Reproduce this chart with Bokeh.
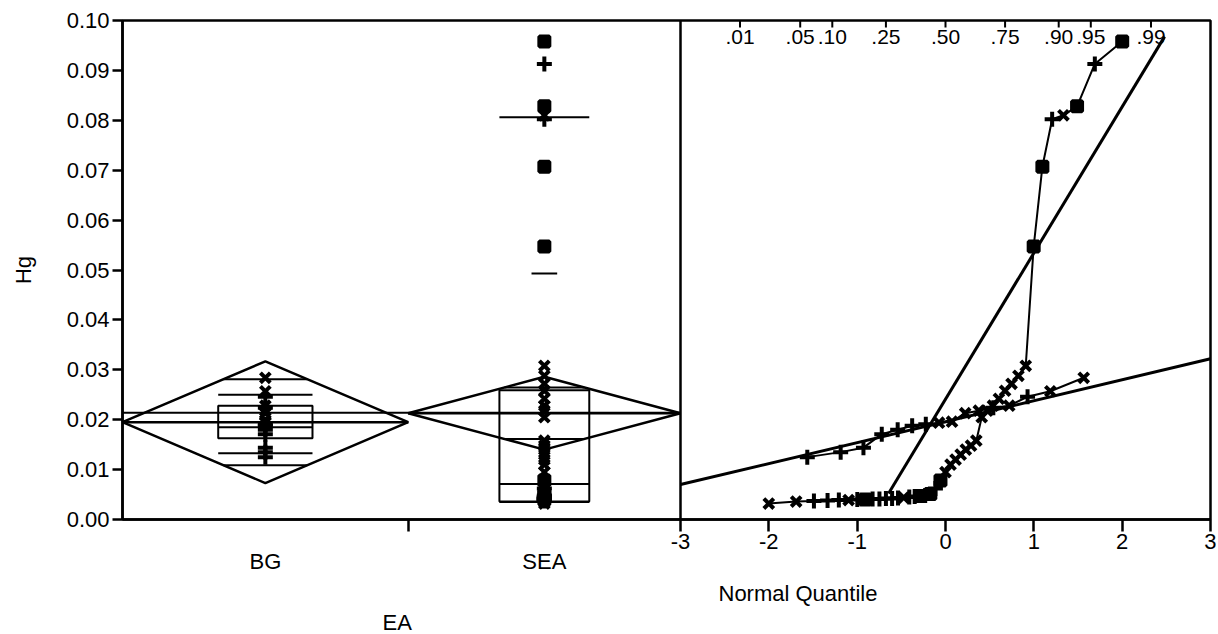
import numpy as np
from statistics import NormalDist
from bokeh.plotting import figure
from bokeh.models import (Range1d, LinearAxis, FixedTicker, PrintfTickFormatter,
                          Span, Title, ColumnDataSource)
from bokeh.core.properties import value
from bokeh.embed import file_html
from bokeh.resources import INLINE

# ---------------- data ----------------
groups = ["BG", "SEA"]
group_edges = [0.0, 0.512, 1.0]

bg_values = [0.0125, 0.0135, 0.0144, 0.0171, 0.0180, 0.0188, 0.0191, 0.0194,
             0.0196, 0.0213, 0.0218, 0.0224, 0.0228, 0.0246, 0.0257, 0.0284]
bg_markers = ["cross", "cross", "cross", "cross", "cross", "cross", "cross", "x",
              "x", "x", "x", "cross", "x", "cross", "x", "x"]

sea_values = [0.0032, 0.0036, 0.0037, 0.0038, 0.0039, 0.0039, 0.0040, 0.0040,
              0.0041, 0.0041, 0.0042, 0.0042, 0.0043, 0.0044, 0.0045, 0.0046,
              0.0047, 0.0048, 0.0051, 0.0062, 0.0078, 0.0095, 0.0110, 0.0120,
              0.0130, 0.0140, 0.0148, 0.0158, 0.0205, 0.0218, 0.0228, 0.0242,
              0.0258, 0.0272, 0.0288, 0.0308, 0.0547, 0.0707, 0.0802, 0.0810,
              0.0828, 0.0913, 0.0958]
sea_markers = ["x", "x", "cross", "cross", "cross", "x", "cross", "square",
               "cross", "cross", "cross", "cross", "cross", "x", "cross", "cross",
               "square", "cross", "square", "cross", "square", "x", "x", "x",
               "x", "x", "x", "x", "x", "x", "x", "x",
               "x", "x", "x", "x", "square", "square", "cross", "x",
               "square", "cross", "square"]

# means diamonds (mean, 95% half-width)
diamond_mean = [0.0195, 0.0213]
diamond_ci = [0.0122, 0.0073]
# quantile boxes: 10%, 25%, 50%, 75%, 90%
q10 = [0.0133, 0.0035]
q25 = [0.0163, 0.0036]
q50 = [0.0185, 0.0071]
q75 = [0.0228, 0.0259]
q90 = [0.0250, 0.0806]
sea_extra_mark = [0.0493]

# normal quantile fit lines (BG, SEA)
fit_mean = [0.0196, 0.0241]
fit_sd = [0.0042, 0.0293]
fit_q_from = [-3.0, -0.645]
fit_q_to = [3.0, 2.48]

prob_ticks = [0.01, 0.05, 0.10, 0.25, 0.50, 0.75, 0.90, 0.95, 0.99]
prob_labels = [".01", ".05", ".10", ".25", ".50", ".75", ".90", ".95", ".99"]
y_ticks = [0.00, 0.01, 0.02, 0.03, 0.04, 0.05, 0.06, 0.07, 0.08, 0.09, 0.10]
q_ticks = [-3, -2, -1, 0, 1, 2, 3]

# ---------------- layout ----------------
FONT = "Liberation Sans"
FS = "22px"
W, H = 1216, 634
BL, BR, BT, BB = 122, 6, 20, 115
L_PART, R_PART = 558, 530
LW = 2.5

cat_lo = group_edges[0]
cat_hi = group_edges[-1] * (L_PART + R_PART) / L_PART
q_hi = q_ticks[-1]
q_lo = q_ticks[0] - (q_ticks[-1] - q_ticks[0]) * L_PART / R_PART


def cat_to_q(c):
    return q_lo + (c - cat_lo) * (q_hi - q_lo) / (cat_hi - cat_lo)


p = figure(width=W, height=H, x_range=Range1d(cat_lo, cat_hi),
           y_range=Range1d(y_ticks[0], y_ticks[-1]),
           x_axis_type=None, output_backend="svg", toolbar_location=None,
           min_border_left=BL, min_border_right=BR, min_border_top=BT,
           min_border_bottom=BB)
p.extra_x_ranges = {"q": Range1d(q_lo, q_hi)}
p.outline_line_color = "black"
p.outline_line_width = LW
p.grid.visible = False
p.background_fill_color = "white"
p.border_fill_color = "white"

# y axis
ya = p.yaxis[0]
ya.ticker = FixedTicker(ticks=y_ticks)
ya.formatter = PrintfTickFormatter(format="%.2f")
ya.major_tick_out = 10
ya.major_tick_in = 0
ya.major_tick_line_width = LW
ya.axis_line_width = LW
ya.major_label_text_font = FONT
ya.major_label_text_font_size = FS
ya.major_label_text_color = "black"
ya.major_label_standoff = 3
ya.axis_label = "Hg"
ya.axis_label_text_font = FONT
ya.axis_label_text_font_size = FS
ya.axis_label_text_font_style = "normal"
ya.axis_label_text_color = "black"
ya.axis_label_standoff = 28

# q axis (bottom, nearest the frame) with the group boundary tick
boundary_q = [cat_to_q(e) for e in group_edges[1:-1]]
qa = LinearAxis(x_range_name="q",
                ticker=FixedTicker(ticks=q_ticks, minor_ticks=boundary_q),
                formatter=PrintfTickFormatter(format="%d"))
qa.major_tick_out = 12
qa.major_tick_in = 0
qa.minor_tick_out = 12
qa.minor_tick_in = 0
qa.major_tick_line_width = LW
qa.minor_tick_line_width = LW
qa.minor_tick_line_color = "black"
qa.axis_line_width = LW
qa.major_label_text_font = FONT
qa.major_label_text_font_size = FS
qa.major_label_text_color = "black"
qa.major_label_standoff = 2
p.add_layout(qa, "below")

# categorical labels (BG / SEA)
centers = [(group_edges[i] + group_edges[i + 1]) / 2 for i in range(len(groups))]
ca = LinearAxis(ticker=FixedTicker(ticks=centers),
                major_label_overrides={c: g for c, g in zip(centers, groups)})
ca.axis_line_color = None
ca.major_tick_out = 0
ca.major_tick_in = 0
ca.major_tick_line_color = None
ca.major_label_standoff = -3
ca.major_label_text_font = FONT
ca.major_label_text_font_size = FS
ca.major_label_text_color = "black"
p.add_layout(ca, "below")

p.add_layout(Title(text="Normal Quantile", align="left", offset=596, standoff=4,
                   text_font=FONT, text_font_size=FS, text_font_style="normal",
                   text_color="black"),
             "below")
p.add_layout(Title(text="EA", align="left", offset=260, standoff=0,
                   text_font=FONT, text_font_size=FS, text_font_style="normal",
                   text_color="black"),
             "below")

# ---------------- left part: oneway ----------------
all_vals = bg_values + sea_values
grand_mean = sum(all_vals) / len(all_vals)
p.line(x=[group_edges[0], group_edges[-1]], y=[grand_mean, grand_mean],
       line_color="black", line_width=2)

widths = [group_edges[i + 1] - group_edges[i] for i in range(len(groups))]
d_xs, d_ys = [], []
for i in range(len(groups)):
    l, r, c = group_edges[i], group_edges[i + 1], centers[i]
    m, h = diamond_mean[i], diamond_ci[i]
    d_xs.append([l, c, r, c])
    d_ys.append([m, m + h, m, m - h])
p.patches(d_xs, d_ys, fill_color=None, line_color="black", line_width=LW)
# mean line across the diamond
p.segment(x0=group_edges[:-1], y0=diamond_mean, x1=group_edges[1:], y1=diamond_mean,
          line_color="black", line_width=LW)
# overlap marks
ov_half = [w / 2 * (1 - 1 / np.sqrt(2)) for w in widths]
for sgn in (1, -1):
    ys = [m + sgn * h / np.sqrt(2) for m, h in zip(diamond_mean, diamond_ci)]
    p.segment(x0=[c - o for c, o in zip(centers, ov_half)], y0=ys,
              x1=[c + o for c, o in zip(centers, ov_half)], y1=ys,
              line_color="black", line_width=2)

# quantile boxes
box_half = [0.33 * w / 2 for w in widths]
bl = [c - b for c, b in zip(centers, box_half)]
br = [c + b for c, b in zip(centers, box_half)]
p.quad(left=bl, right=br, bottom=q25, top=q75, fill_color=None,
       line_color="black", line_width=2)
for qq in (q10, q50, q90):
    p.segment(x0=bl, y0=qq, x1=br, y1=qq, line_color="black", line_width=2)
sea_c = centers[1]
p.segment(x0=[sea_c - 0.023], y0=sea_extra_mark, x1=[sea_c + 0.023], y1=sea_extra_mark,
          line_color="black", line_width=2)

size_map = {"x": 14, "cross": 15, "square": 10}
left_src = ColumnDataSource(dict(
    x=[centers[0]] * len(bg_values) + [centers[1]] * len(sea_values),
    y=bg_values + sea_values,
    marker=bg_markers + sea_markers,
    size=[size_map[m] for m in bg_markers + sea_markers]))
p.scatter(x="x", y="y", marker="marker", size="size", source=left_src,
          line_color="black", fill_color="black", line_width=4)

# ---------------- right part: normal quantile plot ----------------
nd = NormalDist()


def normal_scores(n):
    return [nd.inv_cdf(i / (n + 1)) for i in range(1, n + 1)]


for i in range(len(groups)):
    m, s = fit_mean[i], fit_sd[i]
    a, b = fit_q_from[i], fit_q_to[i]
    p.line(x=[a, b], y=[m + s * a, m + s * b], x_range_name="q",
           line_color="black", line_width=3)

for vals, marks in ((bg_values, bg_markers), (sea_values, sea_markers)):
    order = np.argsort(vals, kind="stable")
    sv = [vals[k] for k in order]
    sm = [marks[k] for k in order]
    qs = normal_scores(len(sv))
    p.line(x=qs, y=sv, x_range_name="q", line_color="black", line_width=2)
    src = ColumnDataSource(dict(x=qs, y=sv, marker=sm, size=[size_map[k] for k in sm]))
    p.scatter(x="x", y="y", marker="marker", size="size", source=src, x_range_name="q",
              line_color="black", fill_color="black", line_width=4)

# probability scale (inside, along the top)
prob_q = [nd.inv_cdf(v) for v in prob_ticks]
ytop = y_ticks[-1]
p.scatter(x=prob_q, y=[ytop] * len(prob_q), marker="dash", angle=np.pi / 2, size=14,
          line_color="black", line_width=2, x_range_name="q")
p.text(x=prob_q, y=[ytop] * len(prob_q), text=prob_labels, x_range_name="q",
       text_align="center", text_baseline="top", y_offset=9,
       text_font=value(FONT), text_font_size="21px", text_color="black")

# separator between the two panels
p.add_layout(Span(location=group_edges[-1], dimension="height",
                  line_color="black", line_width=LW))

open("out.html", "w").write(file_html(p, INLINE))
